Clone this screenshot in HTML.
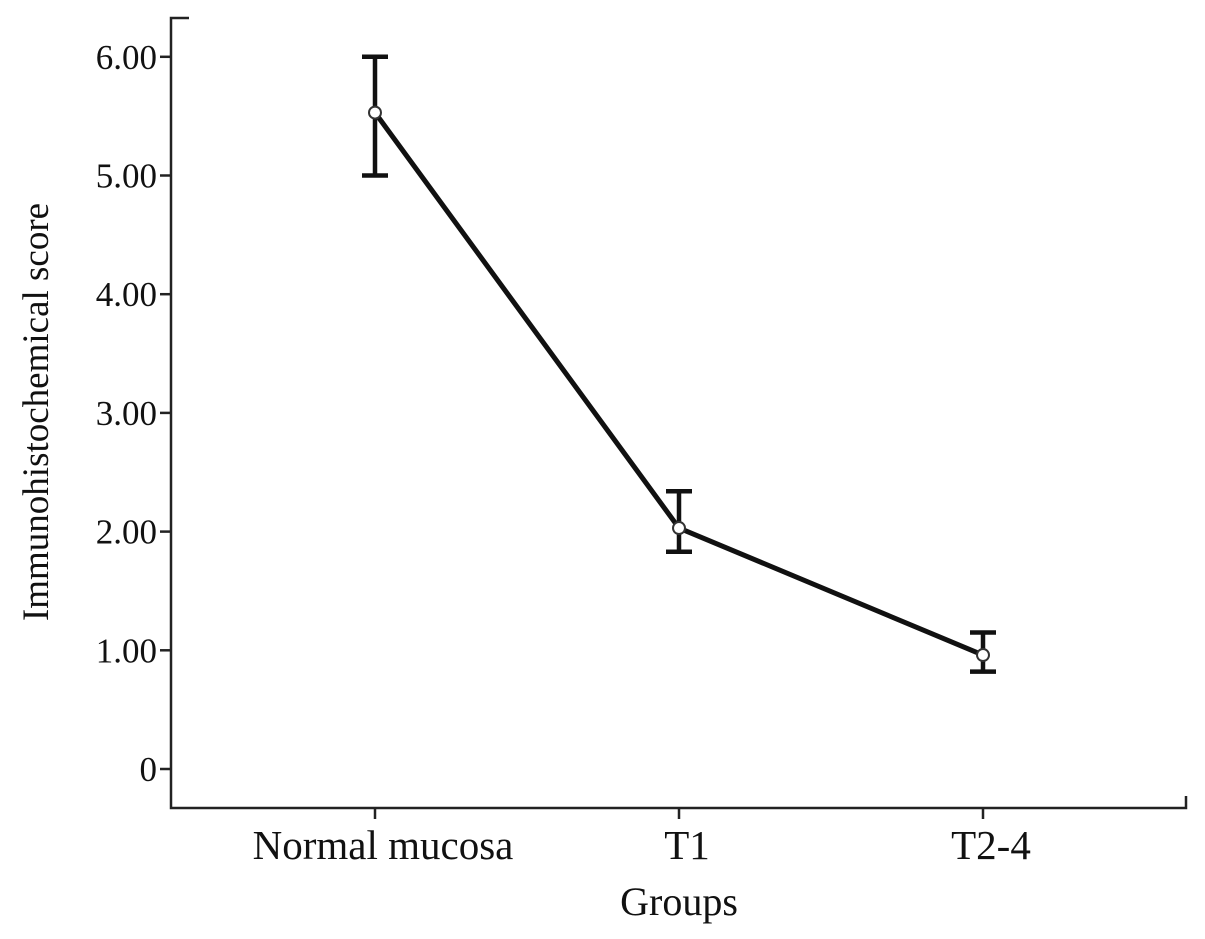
<!DOCTYPE html>
<html><head><meta charset="utf-8">
<style>
html,body{margin:0;padding:0;background:#fff;}
svg{display:block;}
text{font-family:"Liberation Serif",serif;fill:#111;}
</style></head>
<body>
<svg id="chart" width="1205" height="939"></svg>
<script>
const categories = ["Normal mucosa", "T1", "T2-4"];
const means = [5.53, 2.03, 0.96];
const upper = [6.00, 2.34, 1.15];
const lower = [5.00, 1.83, 0.82];
const yTicks = [0, 1, 2, 3, 4, 5, 6];
const yTickLabels = ["0", "1.00", "2.00", "3.00", "4.00", "5.00", "6.00"];

const NS = "http://www.w3.org/2000/svg";
const svg = document.getElementById("chart");
const axisX = 171, axisBottom = 808, axisTop = 18, axisRight = 1186;
function yScale(v){ return 769 - v * 118.7; }
function xScale(i){ return 375 + i * 304; }
function mk(tag, attrs, name){
  const el = document.createElementNS(NS, tag);
  for (const k in attrs) el.setAttribute(k, attrs[k]);
  
  
  svg.appendChild(el);
  return el;
}
const stroke = "#222";
mk("path", {d:`M${axisX+18},${axisTop} H${axisX} V${axisBottom} H${axisRight} V${axisBottom-12}`, fill:"none", stroke:stroke, "stroke-width":2.5}, "axes-frame");
yTicks.forEach((t,i)=>{
  const y = yScale(t);
  mk("line", {x1:axisX-11, x2:axisX, y1:y, y2:y, stroke:stroke, "stroke-width":2.5}, "y-tick");
  const tx = mk("text", {x:axisX-14, y:y+12, "text-anchor":"end", "font-size":35}, "y-tick-label");
  tx.textContent = yTickLabels[i];
});
categories.forEach((c,i)=>{
  const x = xScale(i);
  mk("line", {x1:x, x2:x, y1:axisBottom, y2:axisBottom+11, stroke:stroke, "stroke-width":2.5}, "x-tick");
  const tx = mk("text", {x:x+8, y:859, "text-anchor":"middle", "font-size":41}, "x-tick-label");
  tx.textContent = c;
});
const xt = mk("text", {x:679, y:915, "text-anchor":"middle", "font-size":40}, "x-axis-title");
xt.textContent = "Groups";
const yt = mk("text", {x:0, y:0, "text-anchor":"middle", "font-size":37, transform:"translate(48,412) rotate(-90)"}, "y-axis-title");
yt.textContent = "Immunohistochemical score";
mk("polyline", {points: means.map((v,i)=>`${xScale(i)},${yScale(v)}`).join(" "), fill:"none", stroke:"#111", "stroke-width":5, "stroke-linejoin":"round"}, "mean-line");
categories.forEach((c,i)=>{
  const x = xScale(i), yu = yScale(upper[i]), yl = yScale(lower[i]);
  mk("line", {x1:x, x2:x, y1:yu, y2:yl, stroke:"#111", "stroke-width":4.5}, "error-bar");
  mk("line", {x1:x-13, x2:x+13, y1:yu, y2:yu, stroke:"#111", "stroke-width":4.5}, "error-cap-upper");
  mk("line", {x1:x-13, x2:x+13, y1:yl, y2:yl, stroke:"#111", "stroke-width":4.5}, "error-cap-lower");
  mk("circle", {cx:x, cy:yScale(means[i]), r:6, fill:"#fff", stroke:"#333", "stroke-width":2}, "mean-marker");
});
</script>
</body></html>
